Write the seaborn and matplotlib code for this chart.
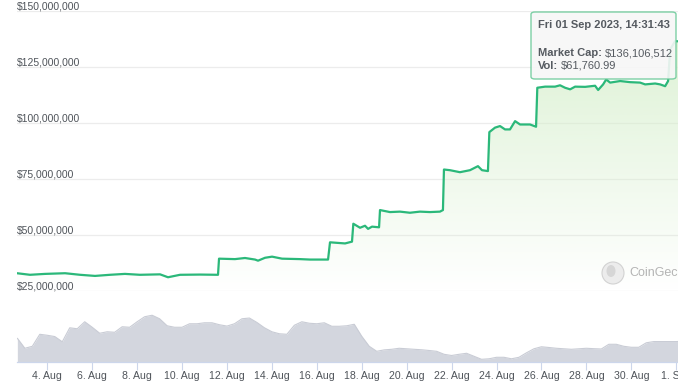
import numpy as np
import pandas as pd
import matplotlib
matplotlib.use("Agg")
import matplotlib.pyplot as plt
import matplotlib.dates as mdates
from matplotlib.patches import FancyBboxPatch, Ellipse
import seaborn as sns

# ---------------- data ----------------
cap_times = [
    "2023-08-02 15:40", "2023-08-03 05:30", "2023-08-03 21:30", "2023-08-04 19:00",
    "2023-08-05 11:00", "2023-08-06 03:00", "2023-08-06 19:00", "2023-08-07 11:00",
    "2023-08-08 03:00", "2023-08-09 00:30", "2023-08-09 09:00", "2023-08-09 21:50",
    "2023-08-10 19:10", "2023-08-11 14:25", "2023-08-11 15:30", "2023-08-12 08:30",
    "2023-08-12 19:15", "2023-08-13 06:00", "2023-08-13 09:10", "2023-08-13 16:40",
    "2023-08-14 00:10", "2023-08-14 10:50", "2023-08-15 06:00", "2023-08-15 16:45",
    "2023-08-16 12:00", "2023-08-16 14:05", "2023-08-17 06:10", "2023-08-17 13:35",
    "2023-08-17 15:00", "2023-08-17 22:10", "2023-08-18 03:30", "2023-08-18 06:45",
    "2023-08-18 11:00", "2023-08-18 18:30", "2023-08-18 19:30", "2023-08-19 06:10",
    "2023-08-19 16:50", "2023-08-20 03:30", "2023-08-20 14:10", "2023-08-21 00:55",
    "2023-08-21 11:35", "2023-08-21 14:45", "2023-08-21 15:50", "2023-08-21 22:15",
    "2023-08-22 08:55", "2023-08-22 19:40", "2023-08-23 04:10", "2023-08-23 08:30",
    "2023-08-23 14:50", "2023-08-23 16:20", "2023-08-23 22:25", "2023-08-24 03:45",
    "2023-08-24 09:05", "2023-08-24 14:25", "2023-08-24 19:50", "2023-08-25 01:10",
    "2023-08-25 11:50", "2023-08-25 18:15", "2023-08-25 19:35", "2023-08-26 03:55",
    "2023-08-26 14:35", "2023-08-26 19:55", "2023-08-27 01:15", "2023-08-27 06:40",
    "2023-08-27 12:00", "2023-08-27 22:40", "2023-08-28 09:20", "2023-08-28 12:35",
    "2023-08-28 17:55", "2023-08-28 21:10", "2023-08-29 01:25", "2023-08-29 12:05",
    "2023-08-29 22:45", "2023-08-30 09:25", "2023-08-30 14:50", "2023-08-31 01:30",
    "2023-08-31 06:50", "2023-08-31 12:10", "2023-08-31 15:20", "2023-08-31 17:30",
    "2023-08-31 22:50", "2023-09-01 14:31",
]
cap_musd = [
    32.8, 32.1, 32.5, 32.8, 32.1, 31.6, 32.1, 32.5, 32.1, 32.3, 31.0, 32.1,
    32.2, 32.1, 39.3, 39.1, 39.6, 38.9, 38.4, 39.7, 40.2, 39.3, 39.1, 38.9,
    38.9, 46.6, 46.1, 46.9, 54.9, 53.1, 54.0, 52.6, 53.6, 53.3, 61.0, 60.1,
    60.3, 59.8, 60.3, 60.1, 60.3, 61.0, 79.1, 78.8, 77.9, 78.8, 80.6, 78.8,
    78.4, 95.8, 97.8, 98.5, 97.0, 97.0, 100.7, 99.2, 99.2, 98.2, 115.6, 116.1,
    116.1, 116.7, 115.6, 114.9, 116.1, 116.0, 116.5, 114.6, 117.1, 119.3, 117.9, 118.6,
    118.1, 117.9, 117.1, 117.5, 117.1, 116.3, 118.6, 132.7, 136.4, 136.106512,
]

vol_start = "2023-08-02 16:00"   # volume samples, every 8 hours
vol_kusd = [
    70.6, 41.2, 47.0, 82.3, 79.4, 75.6, 60.3, 101.4, 98.5, 119.1, 102.9, 85.3,
    89.7, 88.2, 104.4, 102.9, 119.1, 133.8, 138.2, 127.9, 107.3, 102.9, 102.9, 113.2,
    113.2, 116.1, 116.1, 110.3, 106.4, 113.2, 127.9, 130.0, 117.0, 101.4, 89.7, 83.8,
    82.3, 108.8, 119.1, 114.7, 113.2, 116.1, 105.8, 105.8, 107.3, 111.7, 76.4, 47.0,
    32.3, 36.5, 38.2, 41.2, 39.7, 38.2, 36.8, 34.7, 32.3, 23.5, 20.0, 23.5,
    26.5, 17.6, 8.8, 10.3, 14.7, 14.7, 10.3, 14.7, 27.9, 39.7, 45.6, 43.5,
    41.2, 39.7, 38.2, 39.7, 41.2, 40.0, 39.1, 52.9, 52.9, 47.0, 44.1, 44.1,
    57.3, 60.9, 60.9, 60.9, 60.9, 61.76099,
]

y_ticks = [25e6, 50e6, 75e6, 100e6, 125e6, 150e6]
y_tick_labels = ["$25,000,000", "$50,000,000", "$75,000,000",
                 "$100,000,000", "$125,000,000", "$150,000,000"]
x_tick_dates = ["2023-08-04", "2023-08-06", "2023-08-08", "2023-08-10", "2023-08-12",
                "2023-08-14", "2023-08-16", "2023-08-18", "2023-08-20", "2023-08-22",
                "2023-08-24", "2023-08-26", "2023-08-28", "2023-08-30", "2023-09-01"]
x_tick_labels = ["4. Aug", "6. Aug", "8. Aug", "10. Aug", "12. Aug", "14. Aug", "16. Aug",
                 "18. Aug", "20. Aug", "22. Aug", "24. Aug", "26. Aug", "28. Aug",
                 "30. Aug", "1. Sep"]
tooltip_title = "Fri 01 Sep 2023, 14:31:43"
tooltip_cap = ("Market Cap:", "$136,106,512")
tooltip_vol = ("Vol:", "$61,760.99")
watermark = "CoinGecko"

# ---------------- frames ----------------
cap_df = pd.DataFrame({"time": pd.to_datetime(cap_times),
                       "cap": np.array(cap_musd) * 1e6})
vol_df = pd.DataFrame({"time": pd.date_range(vol_start, periods=len(vol_kusd), freq="8h"),
                       "vol": np.array(vol_kusd) * 1e3})

sns.set_theme(style="white")
plt.rcParams["font.family"] = ["Liberation Sans", "DejaVu Sans"]

W, H = 678, 381
fig = plt.figure(figsize=(W / 100, H / 100), dpi=100)
fig.patch.set_facecolor("white")

def fx(px):
    return px / W

def fy(py):
    return 1 - py / H

x0, x1 = pd.Timestamp("2023-08-02 15:38"), pd.Timestamp("2023-09-01 01:55")

# ---------------- market cap pane ----------------
ax = fig.add_axes([fx(17), fy(290.7), fx(678) - fx(17), fy(10.7) - fy(290.7)])
ax.set_facecolor("none")
line_col = "#2bb87a"
sns.lineplot(data=cap_df, x="time", y="cap", ax=ax, color=line_col, lw=1.6, zorder=4)
ax.set_xlim(x0, x1)
ax.set_ylim(25e6, 150e6)

# gradient fill under the line
tnum = mdates.date2num(cap_df["time"])
poly = ax.fill_between(tnum, cap_df["cap"], 25e6, color="none", lw=0)
grad = np.zeros((256, 1, 4))
grad[:, 0, 0] = 0.84
grad[:, 0, 1] = 0.94
grad[:, 0, 2] = 0.80
grad[:, 0, 3] = np.linspace(0.9, 0.0, 256)
im = ax.imshow(grad, aspect="auto", origin="upper",
               extent=[mdates.date2num(x0), mdates.date2num(pd.Timestamp("2023-09-02")),
                       25e6, 150e6], zorder=1)
im.set_clip_path(poly.get_paths()[0], transform=ax.transData)
ax.set_xlim(x0, x1)
ax.set_ylim(25e6, 150e6)

ax.set_yticks(y_ticks)
ax.grid(axis="y", color="#ececec", lw=0.9)
ax.grid(axis="x", visible=False)
ax.tick_params(left=False, bottom=False, labelleft=False, labelbottom=False)
for s in ax.spines.values():
    s.set_visible(False)
ax.set_xlabel("")
ax.set_ylabel("")
for val, lab in zip(y_ticks, y_tick_labels):
    ax.annotate(lab, xy=(0, val), xycoords=("axes fraction", "data"),
                xytext=(0, 1.2), textcoords="offset points",
                ha="left", va="baseline", fontsize=7.5, color="#4f545a", zorder=5)

# ---------------- volume pane ----------------
axv = fig.add_axes([fx(17), fy(362.3), fx(678) - fx(17), fy(300) - fy(362.3)])
axv.set_facecolor("none")
vcol = "#d3d6de"
sns.lineplot(data=vol_df, x="time", y="vol", ax=axv, color="#c9ccd5", lw=0.8)
axv.fill_between(mdates.date2num(vol_df["time"]), vol_df["vol"], 0, color=vcol, lw=0)
axv.set_xlim(x0, x1)
axv.set_ylim(0, 183e3)
axv.set_xticks(pd.to_datetime(x_tick_dates))
axv.set_xticklabels(x_tick_labels)
axv.tick_params(axis="x", bottom=True, length=5.5, width=0.8, color="#ccd6eb",
                pad=0.5, labelsize=7.6, labelcolor="#4f545a")
axv.tick_params(left=False, labelleft=False)
axv.grid(False)
for k, s in axv.spines.items():
    s.set_visible(k == "bottom")
axv.spines["bottom"].set_color("#ccd6eb")
axv.spines["bottom"].set_linewidth(0.9)
axv.set_xlabel("")
axv.set_ylabel("")

# ---------------- watermark ----------------
fig.patches.append(Ellipse((fx(613), fy(273)), 22 / W, 22 / H, transform=fig.transFigure,
                           facecolor="#ececec", edgecolor="#d2d2d2", lw=0.8, zorder=6))
fig.patches.append(Ellipse((fx(611), fy(271)), 9 / W, 12 / H, transform=fig.transFigure,
                           facecolor="#d6d6d6", edgecolor="none", zorder=7))
fig.text(fx(629), fy(273), watermark, ha="left", va="center", fontsize=9,
         color="#b4b4b4", zorder=6)

# ---------------- tooltip ----------------
bx0, by0, bx1, by1 = 531, 12, 676, 79
box = FancyBboxPatch((fx(bx0), fy(by1)), fx(bx1) - fx(bx0), fy(by0) - fy(by1),
                     boxstyle="round,pad=0,rounding_size=0.006",
                     transform=fig.transFigure, facecolor="#f7f7f7", alpha=0.9,
                     edgecolor="#6fcb9c", lw=1.0, zorder=10)
fig.patches.append(box)
tc = "#555a60"
fig.text(fx(538), fy(25.5), tooltip_title, ha="left", va="center", fontsize=8,
         fontweight="bold", color=tc, zorder=11)
t1 = fig.text(fx(538), fy(53), tooltip_cap[0], ha="left", va="center", fontsize=8,
              fontweight="bold", color=tc, zorder=11)
t2 = fig.text(fx(538), fy(66), tooltip_vol[0], ha="left", va="center", fontsize=8,
              fontweight="bold", color=tc, zorder=11)
fig.canvas.draw()
r = fig.canvas.get_renderer()
for t, val, py in [(t1, tooltip_cap[1], 53), (t2, tooltip_vol[1], 66)]:
    bb = t.get_window_extent(r)
    fig.text((bb.x1 + 3) / W, fy(py), val, ha="left", va="center", fontsize=8,
             color=tc, zorder=11)

fig.savefig("out.png", dpi=100)
